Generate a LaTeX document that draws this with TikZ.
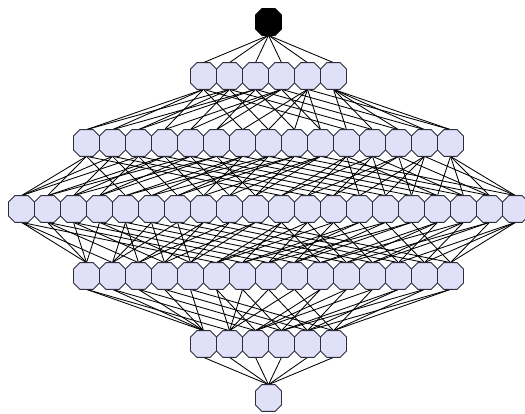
\documentclass[tikz,border=0pt]{standalone}
\usepackage{tikz}
\usetikzlibrary{shapes.misc,backgrounds}
\definecolor{cellfill}{RGB}{224,224,248}
\definecolor{celledge}{RGB}{45,45,60}
\newcounter{rk1}\newcounter{rk2}\newcounter{rk3}
\newcounter{rk4}\newcounter{rk5}\newcounter{rk6}

\begin{document}
\begin{tikzpicture}[x=1pt,y=-1pt,
    cell/.style={chamfered rectangle, chamfered rectangle xsep=3.5pt,
      chamfered rectangle angle=45, draw=celledge, fill=cellfill,
      line width=0.8pt, inner xsep=9.5pt, inner ysep=10.5pt,
      outer sep=0pt},
    link/.style={black, line width=0.85pt}]
  \useasboundingbox (0,0) rectangle (525,414);
  % top
  \node[cell, fill=black, draw=black] (s0) at (268.5,22) {};
  % one cell per subset, row = size of the subset
  \foreach \m in {1,...,63} {
    \pgfmathtruncatemacro{\r}{mod(\m,2)+mod(floor(\m/2),2)+mod(floor(\m/4),2)+mod(floor(\m/8),2)+mod(floor(\m/16),2)+mod(floor(\m/32),2)}
    \stepcounter{rk\r}
    \pgfmathsetmacro{\n}{{1,6,15,20,15,6,1}[\r]}
    \pgfmathsetmacro{\yy}{{22,76,143,209,276,344,398}[\r]}
    \pgfmathsetmacro{\xx}{268.5+26*(\arabic{rk\r}-1-(\n-1)/2)}
    \node[cell] (s\m) at (\xx,\yy) {};
  }
  % covering lines
  \begin{pgfonlayer}{background}
    \foreach \m in {0,...,62} {
      \foreach \b in {0,...,5} {
        \pgfmathtruncatemacro{\hasb}{mod(floor(\m/2^\b),2)}
        \ifnum\hasb=0
          \pgfmathtruncatemacro{\up}{\m+2^\b}
          \draw[link] (s\m.south) -- (s\up.north);
        \fi
      }
    }
  \end{pgfonlayer}
\end{tikzpicture}
\end{document}
